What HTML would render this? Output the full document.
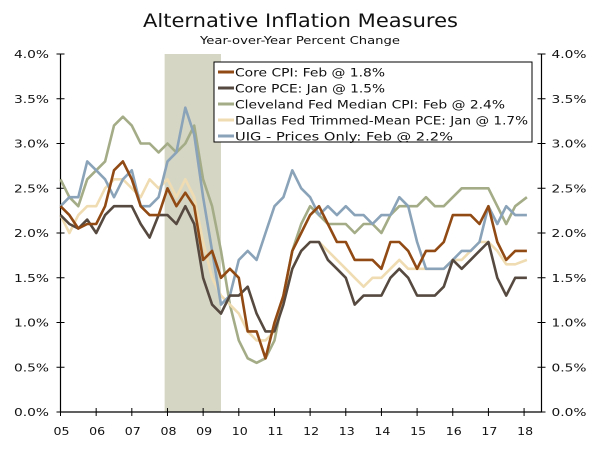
<!DOCTYPE html>
<html><head><meta charset="utf-8">
<style>
body{margin:0;background:#fff;}
svg{display:block;font-family:"DejaVu Sans","Liberation Sans",sans-serif;}
</style></head>
<body>
<svg id="chart" width="600" height="450" viewBox="0 0 600 450">
<text x="143" y="27" textLength="315" lengthAdjust="spacingAndGlyphs" font-size="19" fill="#111">Alternative Inflation Measures</text>
<text x="200" y="44" textLength="200" lengthAdjust="spacingAndGlyphs" font-size="10.5" fill="#111">Year-over-Year Percent Change</text>
<g id="plot"></g>
</svg>
<script>
const years = ['05','06','07','08','09','10','11','12','13','14','15','16','17','18'];
const yTicks = [0,0.5,1,1.5,2,2.5,3,3.5,4];
const recession = [2007.92, 2009.5];
const coreCPI = [2.3,2.2,2.05,2.1, 2.1,2.3,2.7,2.8, 2.6,2.3,2.2,2.2, 2.5,2.3,2.45,2.3, 1.7,1.8,1.5,1.6, 1.5,0.9,0.9,0.6, 1.0,1.3,1.8,2.0, 2.2,2.3,2.1,1.9, 1.9,1.7,1.7,1.7, 1.6,1.9,1.9,1.8, 1.6,1.8,1.8,1.9, 2.2,2.2,2.2,2.1, 2.3,1.9,1.7,1.8, 1.8];
const corePCE = [2.2,2.1,2.05,2.15, 2.0,2.2,2.3,2.3, 2.3,2.1,1.95,2.2, 2.2,2.1,2.3,2.1, 1.5,1.2,1.1,1.3, 1.3,1.4,1.1,0.9, 0.9,1.2,1.6,1.8, 1.9,1.9,1.7,1.6, 1.5,1.2,1.3,1.3, 1.3,1.5,1.6,1.5, 1.3,1.3,1.3,1.4, 1.7,1.6,1.7,1.8, 1.9,1.5,1.3,1.5, 1.5];
const clevMedian = [2.6,2.4,2.3,2.6, 2.7,2.8,3.2,3.3, 3.2,3.0,3.0,2.9, 3.0,2.9,3.0,3.2, 2.6,2.3,1.8,1.2, 0.8,0.6,0.55,0.6, 0.8,1.3,1.8,2.1, 2.3,2.2,2.1,2.1, 2.1,2.0,2.1,2.1, 2.0,2.2,2.3,2.3, 2.3,2.4,2.3,2.3, 2.4,2.5,2.5,2.5, 2.5,2.3,2.1,2.3, 2.4];
const dallasTrim = [2.2,2.0,2.2,2.3, 2.3,2.5,2.6,2.6, 2.5,2.4,2.6,2.5, 2.6,2.4,2.6,2.4, 1.9,1.5,1.3,1.2, 1.1,0.9,0.8,0.8, 0.9,1.3,1.6,1.8, 1.9,1.9,1.8,1.7, 1.6,1.5,1.4,1.5, 1.5,1.6,1.7,1.6, 1.6,1.6,1.6,1.6, 1.7,1.7,1.8,1.9, 1.9,1.8,1.65,1.65, 1.7];
const uigPrices = [2.3,2.4,2.4,2.8, 2.7,2.6,2.4,2.6, 2.7,2.3,2.3,2.4, 2.8,2.9,3.4,3.1, 2.4,1.8,1.2,1.3, 1.7,1.8,1.7,2.0, 2.3,2.4,2.7,2.5, 2.4,2.2,2.3,2.2, 2.3,2.2,2.2,2.1, 2.2,2.2,2.4,2.3, 1.9,1.6,1.6,1.6, 1.7,1.8,1.8,1.9, 2.3,2.1,2.3,2.2, 2.2];

const L=60.5, R=541.5, T=54, B=412;
const X = t => L + (t-2005)*35.66;
const Y = v => B - v*(B-T)/4;
const ns='http://www.w3.org/2000/svg';
const g=document.getElementById('plot');
function mk(tag, attrs, parent){const e=document.createElementNS(ns,tag);for(const k in attrs)e.setAttribute(k,attrs[k]);(parent||g).appendChild(e);return e;}

const sh=mk('rect',{x:X(recession[0]),y:T,width:X(recession[1])-X(recession[0]),height:B-T,fill:'#d6d6c5'});



const ax=mk('path',{d:`M${L},${T}V${B}H${R}V${T}`,fill:'none',stroke:'#000','stroke-width':1.2});



yTicks.forEach(v=>{
  const y=Y(v);
  mk('line',{x1:L-4,x2:L+4,y1:y,y2:y,stroke:'#000'});
  mk('line',{x1:R-4,x2:R+4,y1:y,y2:y,stroke:'#000'});
  const a=mk('text',{x:14,y:y+4,textLength:35,lengthAdjust:'spacingAndGlyphs','font-size':10.5,fill:'#111'});a.textContent=v.toFixed(1)+'%';
  
  
  const b=mk('text',{x:R+10,y:y+4,textLength:35,lengthAdjust:'spacingAndGlyphs','font-size':10.5,fill:'#111'});b.textContent=v.toFixed(1)+'%';
  
  
});
years.forEach((lab,i)=>{
  const x=X(2005+i);
  mk('line',{x1:x,x2:x,y1:B-4,y2:B+4,stroke:'#000'});
  const t=mk('text',{x:x-7,y:B+23,textLength:16,lengthAdjust:'spacingAndGlyphs','font-size':11,fill:'#111'});t.textContent=lab;
  
  
});

const series=[
 {name:'clev-median-line',data:clevMedian,c:'#a3ac86',label:'Cleveland Fed Median CPI: Feb @ 2.4%'},
 {name:'dallas-trim-line',data:dallasTrim,c:'#f0dcb2',label:'Dallas Fed Trimmed-Mean PCE: Jan @ 1.7%'},
 {name:'uig-line',data:uigPrices,c:'#8aa3b8',label:'UIG - Prices Only: Feb @ 2.2%'},
 {name:'core-pce-line',data:corePCE,c:'#564a40',label:'Core PCE: Jan @ 1.5%'},
 {name:'core-cpi-line',data:coreCPI,c:'#914a14',label:'Core CPI: Feb @ 1.8%'}
];
series.forEach(s=>{
  const d=s.data.map((v,i)=>{const t=(i===s.data.length-1)?2018.08:2005+i*0.25;return (i?'L':'M')+X(t).toFixed(1)+','+Y(v).toFixed(1);}).join('');
  const p=mk('path',{d,fill:'none',stroke:s.c,'stroke-width':2.6,'stroke-linejoin':'round'});
  
  
});

const lg=mk('g',{});


mk('rect',{x:214,y:62,width:318,height:80,fill:'#fff',stroke:'#000'},lg);
const order=[4,3,0,1,2];
const perChar=7.5;
order.forEach((k,i)=>{
  const s=series[k];const y=72+i*16;
  mk('line',{x1:218,x2:234,y1:y,y2:y,stroke:s.c,'stroke-width':3},lg);
  const t=mk('text',{x:235,y:y+4.5,textLength:(s.label.length*perChar).toFixed(0),lengthAdjust:'spacingAndGlyphs','font-size':11.5,fill:'#111'},lg);t.textContent=s.label;
  
  
});
</script>
</body></html>
